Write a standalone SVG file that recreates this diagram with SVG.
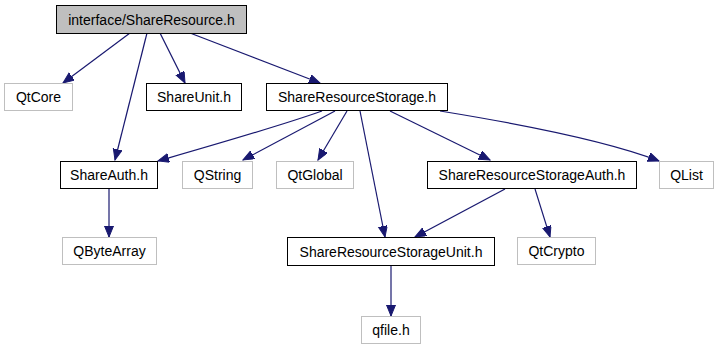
<svg xmlns="http://www.w3.org/2000/svg" width="719" height="349" viewBox="0 0 719 349">
  <style>
    .node rect { fill: #ffffff; stroke: #000000; stroke-width: 1; }
    .node.ext rect { stroke: #bfbfbf; }
    .node.root rect { fill: #bfbfbf; }
    .node text { font-family: "Liberation Sans", Arial, sans-serif; font-size: 14px; fill: #000000; text-anchor: middle; }
    .edges path { fill: none; stroke: #191970; stroke-width: 1.2; marker-end: url(#arrow); }
  </style>
  <defs>
    <marker id="arrow" markerUnits="userSpaceOnUse" markerWidth="12" markerHeight="10" refX="11" refY="4.5" orient="auto">
      <path d="M0,0 L11,4.5 L0,9 Z" fill="#191970" stroke="#191970" stroke-width="1"/>
    </marker>
  </defs>
  <rect width="719" height="349" fill="#ffffff"/>

  <g class="edges" id="edges">
    <path d="M130,33 L63,83"/>
    <path d="M147,33 L115,160"/>
    <path d="M160,33 L185,83"/>
    <path d="M190,33 L320,83"/>
    <path d="M322,111 C280,126 210,146 158,161"/>
    <path d="M335,111 L243,160"/>
    <path d="M347,111 L318,160"/>
    <path d="M360,111 L385,237"/>
    <path d="M390,111 L490,160"/>
    <path d="M440,111 C520,124 610,142 659,161"/>
    <path d="M505,189 L415,237"/>
    <path d="M535,189 L550,237"/>
    <path d="M109,189 L109,237"/>
    <path d="M391,266 L391,316"/>
  </g>

  <g class="node root" id="node-root">
    <rect x="56.5" y="5.5" width="190" height="28"/>
    <text x="151.5" y="24.5">interface/ShareResource.h</text>
  </g>
  <g class="node ext" id="node-qtcore">
    <rect x="4.5" y="83.5" width="68" height="27"/>
    <text x="38.5" y="102">QtCore</text>
  </g>
  <g class="node" id="node-shareunit">
    <rect x="146.5" y="83.5" width="95" height="27"/>
    <text x="194" y="102">ShareUnit.h</text>
  </g>
  <g class="node" id="node-srs">
    <rect x="266.5" y="83.5" width="181" height="27"/>
    <text x="357" y="102">ShareResourceStorage.h</text>
  </g>
  <g class="node" id="node-shareauth">
    <rect x="60.5" y="161.5" width="97" height="27"/>
    <text x="109" y="180">ShareAuth.h</text>
  </g>
  <g class="node ext" id="node-qstring">
    <rect x="182.5" y="161.5" width="70" height="27"/>
    <text x="217.5" y="180">QString</text>
  </g>
  <g class="node ext" id="node-qtglobal">
    <rect x="276.5" y="161.5" width="77" height="27"/>
    <text x="315" y="180">QtGlobal</text>
  </g>
  <g class="node" id="node-srsauth">
    <rect x="427.5" y="161.5" width="209" height="27"/>
    <text x="532" y="180">ShareResourceStorageAuth.h</text>
  </g>
  <g class="node ext" id="node-qlist">
    <rect x="659.5" y="161.5" width="54" height="27"/>
    <text x="686.5" y="180">QList</text>
  </g>
  <g class="node ext" id="node-qbytearray">
    <rect x="62.5" y="237.5" width="94" height="27"/>
    <text x="109.5" y="256">QByteArray</text>
  </g>
  <g class="node" id="node-srsunit">
    <rect x="287.5" y="237.5" width="207" height="28"/>
    <text x="391" y="256.5">ShareResourceStorageUnit.h</text>
  </g>
  <g class="node ext" id="node-qtcrypto">
    <rect x="517.5" y="237.5" width="78" height="27"/>
    <text x="556.5" y="256">QtCrypto</text>
  </g>
  <g class="node ext" id="node-qfile">
    <rect x="361.5" y="316.5" width="59" height="27"/>
    <text x="391" y="335">qfile.h</text>
  </g>
</svg>
